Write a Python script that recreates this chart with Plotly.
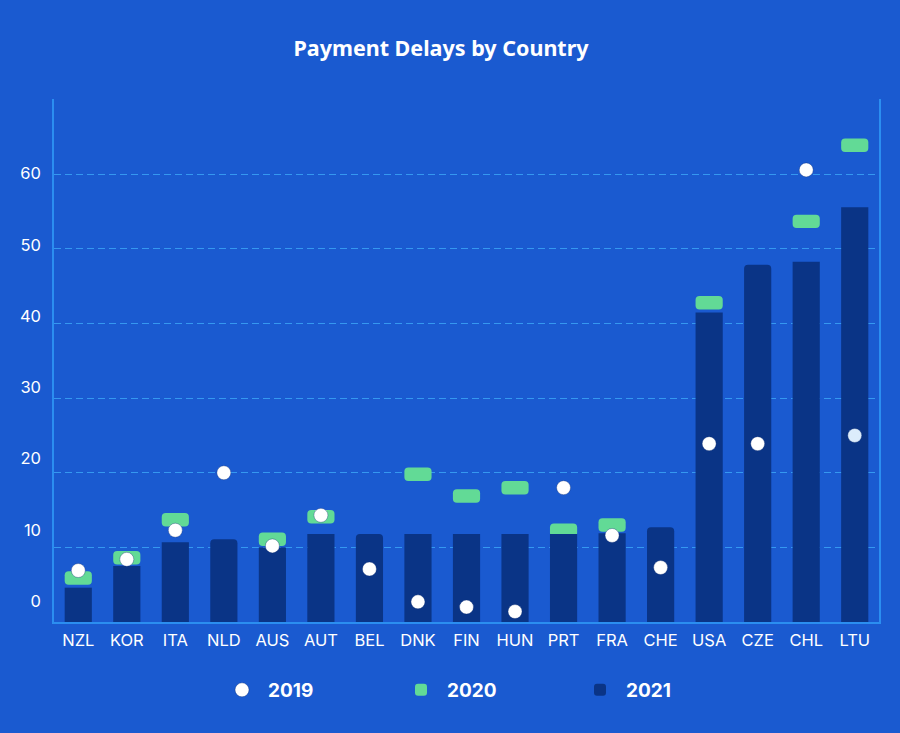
import plotly.graph_objects as go

countries = ["NZL", "KOR", "ITA", "NLD", "AUS", "AUT", "BEL", "DNK", "FIN",
             "HUN", "PRT", "FRA", "CHE", "USA", "CZE", "CHL", "LTU"]
v2019 = [6.9, 8.4, 12.3, 20.0, 10.2, 14.3, 7.1, 2.7, 2.0, 1.4, 18.0, 11.6, 7.3,
         23.9, 23.9, 60.6, 25.0]
v2020 = [5.9, 8.6, 13.7, None, 11.1, 14.1, None, 19.8, 16.9, 18.0, 12.3, 13.0,
         None, 42.8, None, 53.7, 63.9]
v2021 = [4.6, 7.5, 10.7, 11.1, 10.0, 11.8, 11.8, 11.8, 11.8, 11.8, 11.8, 11.9,
         12.7, 41.5, 47.9, 48.3, 55.6]
y_ticks = [0, 10, 20, 30, 40, 50, 60]

BG = "#1a5ad0"
NAVY = "#0a3486"
GREEN = "#62da96"
GRID = "#3598f0"
AXIS = "#2b8ef0"
FONT = "Inter"

CAP = 1.8  # height of the 2020 marker bars in data units
base20 = [None if v is None else v - CAP / 2 for v in v2020]
h20 = [None if v is None else CAP for v in v2020]

dot_colors = ["#ffffff"] * len(countries)
dot_colors[-1] = "#dcecfb"

fig = go.Figure()
fig.add_trace(go.Bar(
    x=countries, y=h20, base=base20, name="2020",
    marker=dict(color=GREEN, line=dict(width=0)),
    width=0.56, legendrank=2,
))
fig.add_trace(go.Bar(
    x=countries, y=v2021, name="2021",
    marker=dict(color=NAVY, line=dict(width=0)),
    width=0.56, legendrank=3,
))
fig.add_trace(go.Scatter(
    x=countries, y=v2019, name="2019", mode="markers",
    marker=dict(color=dot_colors, size=14, line=dict(width=1, color="rgba(10,40,110,0.35)")),
    legendrank=1,
))

fig.update_layout(
    width=900, height=733,
    paper_bgcolor=BG, plot_bgcolor=BG,
    barmode="overlay", barcornerradius=4,
    margin=dict(l=54, r=21, t=99, b=111),
    title=dict(text="<b>Payment Delays by Country</b>", x=441 / 900, xanchor="center",
               y=1 - 48 / 733, yanchor="middle", xref="container", yref="container",
               font=dict(family="Noto Sans", size=21.5, color="white")),
    font=dict(family=FONT, color="white"),
    showlegend=True,
    legend=dict(orientation="h", xref="container", yref="container",
                x=216 / 900, xanchor="left", y=(733 - 690) / 733, yanchor="middle",
                bgcolor="rgba(0,0,0,0)", font=dict(family=FONT, size=19, color="white", weight="bold"),
                itemwidth=42, entrywidth=122, itemclick=False),
    xaxis=dict(showgrid=False, showline=True, linecolor=AXIS, linewidth=2,
               ticks="", ticklabelstandoff=2, tickfont=dict(size=16.5, color="white"),
               zeroline=False, range=[-0.5, len(countries) - 0.5]),
    yaxis=dict(range=[0, 70.1], tickvals=[10, 20, 30, 40, 50, 60, 70], showticklabels=False,
               showgrid=True, gridcolor=GRID, griddash="7px,4px", gridwidth=1.3,
               showline=True, mirror=True, linecolor=AXIS, linewidth=1.5,
               zeroline=False, ticks=""),
    yaxis2=dict(overlaying="y", side="left", range=[-2.92, 70.48], tickvals=y_ticks,
                showgrid=False, showline=False, zeroline=False, ticks="",
                ticklabelstandoff=12, tickfont=dict(size=16.5, color="white")),
)
fig.add_trace(go.Scatter(x=[], y=[], yaxis="y2", showlegend=False, hoverinfo="skip"))

fig.write_html("out.html", config={"displayModeBar": False},
               post_script="document.body.style.margin='0';document.body.style.background='" + BG + "';")
